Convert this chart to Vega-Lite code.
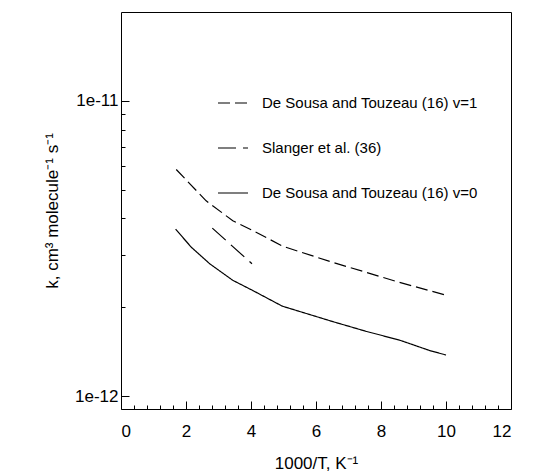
{
  "$schema": "https://vega.github.io/schema/vega-lite/v6.json",
  "width": 390,
  "height": 397,
  "autosize": "none",
  "padding": {"left": 121, "top": 12, "right": 25, "bottom": 64},
  "background": "white",
  "config": {
    "view": {"stroke": "black", "strokeWidth": 1},
    "font": "Liberation Sans",
    "axis": {"domain": false, "grid": false, "tickColor": "black", "labelColor": "black", "titleColor": "black", "labelFontSize": 17, "titleFontSize": 17, "titleFontWeight": "normal"}
  },
  "data": {"values": [
    {"series": "De Sousa and Touzeau (16) v=1", "x": 1.7, "k": 5.86e-12},
    {"series": "De Sousa and Touzeau (16) v=1", "x": 2.62, "k": 4.59e-12},
    {"series": "De Sousa and Touzeau (16) v=1", "x": 3.44, "k": 3.93e-12},
    {"series": "De Sousa and Touzeau (16) v=1", "x": 4.06, "k": 3.64e-12},
    {"series": "De Sousa and Touzeau (16) v=1", "x": 4.98, "k": 3.22e-12},
    {"series": "De Sousa and Touzeau (16) v=1", "x": 6.52, "k": 2.84e-12},
    {"series": "De Sousa and Touzeau (16) v=1", "x": 7.54, "k": 2.63e-12},
    {"series": "De Sousa and Touzeau (16) v=1", "x": 8.57, "k": 2.43e-12},
    {"series": "De Sousa and Touzeau (16) v=1", "x": 10.0, "k": 2.2e-12},
    {"series": "Slanger et al. (36)", "x": 2.81, "k": 3.71e-12},
    {"series": "Slanger et al. (36)", "x": 4.03, "k": 2.81e-12},
    {"series": "De Sousa and Touzeau (16) v=0", "x": 1.68, "k": 3.68e-12},
    {"series": "De Sousa and Touzeau (16) v=0", "x": 2.16, "k": 3.2e-12},
    {"series": "De Sousa and Touzeau (16) v=0", "x": 2.73, "k": 2.81e-12},
    {"series": "De Sousa and Touzeau (16) v=0", "x": 3.44, "k": 2.47e-12},
    {"series": "De Sousa and Touzeau (16) v=0", "x": 4.06, "k": 2.28e-12},
    {"series": "De Sousa and Touzeau (16) v=0", "x": 4.96, "k": 2.02e-12},
    {"series": "De Sousa and Touzeau (16) v=0", "x": 6.52, "k": 1.79e-12},
    {"series": "De Sousa and Touzeau (16) v=0", "x": 7.54, "k": 1.66e-12},
    {"series": "De Sousa and Touzeau (16) v=0", "x": 8.57, "k": 1.55e-12},
    {"series": "De Sousa and Touzeau (16) v=0", "x": 9.49, "k": 1.43e-12},
    {"series": "De Sousa and Touzeau (16) v=0", "x": 10.0, "k": 1.38e-12}
  ]},
  "layer": [
    {
      "mark": {"type": "line", "color": "black", "strokeWidth": 1.2},
      "encoding": {
        "x": {"field": "x", "type": "quantitative", "scale": {"domain": [0, 12], "nice": false},
              "axis": {"orient": "bottom", "values": [0, 2, 4, 6, 8, 10, 12], "tickSize": -8, "labelPadding": 22, "title": "1000/T, K⁻¹", "titlePadding": 16}},
        "y": {"field": "k", "type": "quantitative", "scale": {"type": "log", "domain": [9.06e-13, 2e-11], "nice": false},
              "axis": {"orient": "left", "values": [1e-12, 1e-11], "format": ".0e", "tickSize": -8, "labelPadding": 11, "title": "k, cm³ molecule⁻¹ s⁻¹", "titlePadding": 13}},
        "strokeDash": {"field": "series", "type": "nominal",
          "scale": {"domain": ["De Sousa and Touzeau (16) v=1", "Slanger et al. (36)", "De Sousa and Touzeau (16) v=0"], "range": [[12, 5], [18, 7], [1, 0]]},
          "legend": {"orient": "none", "legendX": 96, "legendY": 75, "title": null, "symbolType": "stroke", "symbolSize": 900, "symbolStrokeWidth": 1.2, "symbolStrokeColor": "black", "labelFontSize": 15, "labelColor": "black", "labelOffset": 13, "rowPadding": 21, "labelLimit": 400}}
      }
    },
    {
      "mark": {"type": "line", "opacity": 0},
      "encoding": {
        "x": {"field": "x", "type": "quantitative",
              "axis": {"orient": "bottom", "values": [0.4, 0.8, 1.2, 1.6, 2.4, 2.8, 3.2, 3.6, 4.4, 4.8, 5.2, 5.6, 6.4, 6.8, 7.2, 7.6, 8.4, 8.8, 9.2, 9.6, 10.4, 10.8, 11.2, 11.6], "tickSize": -4, "labels": false, "title": null}},
        "y": {"field": "k", "type": "quantitative",
              "axis": {"orient": "left", "values": [2e-12, 3e-12, 4e-12, 5e-12, 6e-12, 7e-12, 8e-12, 9e-12], "tickSize": -4, "labels": false, "title": null}},
        "detail": {"field": "series"}
      }
    }
  ],
  "resolve": {"axis": {"x": "independent", "y": "independent"}}
}
